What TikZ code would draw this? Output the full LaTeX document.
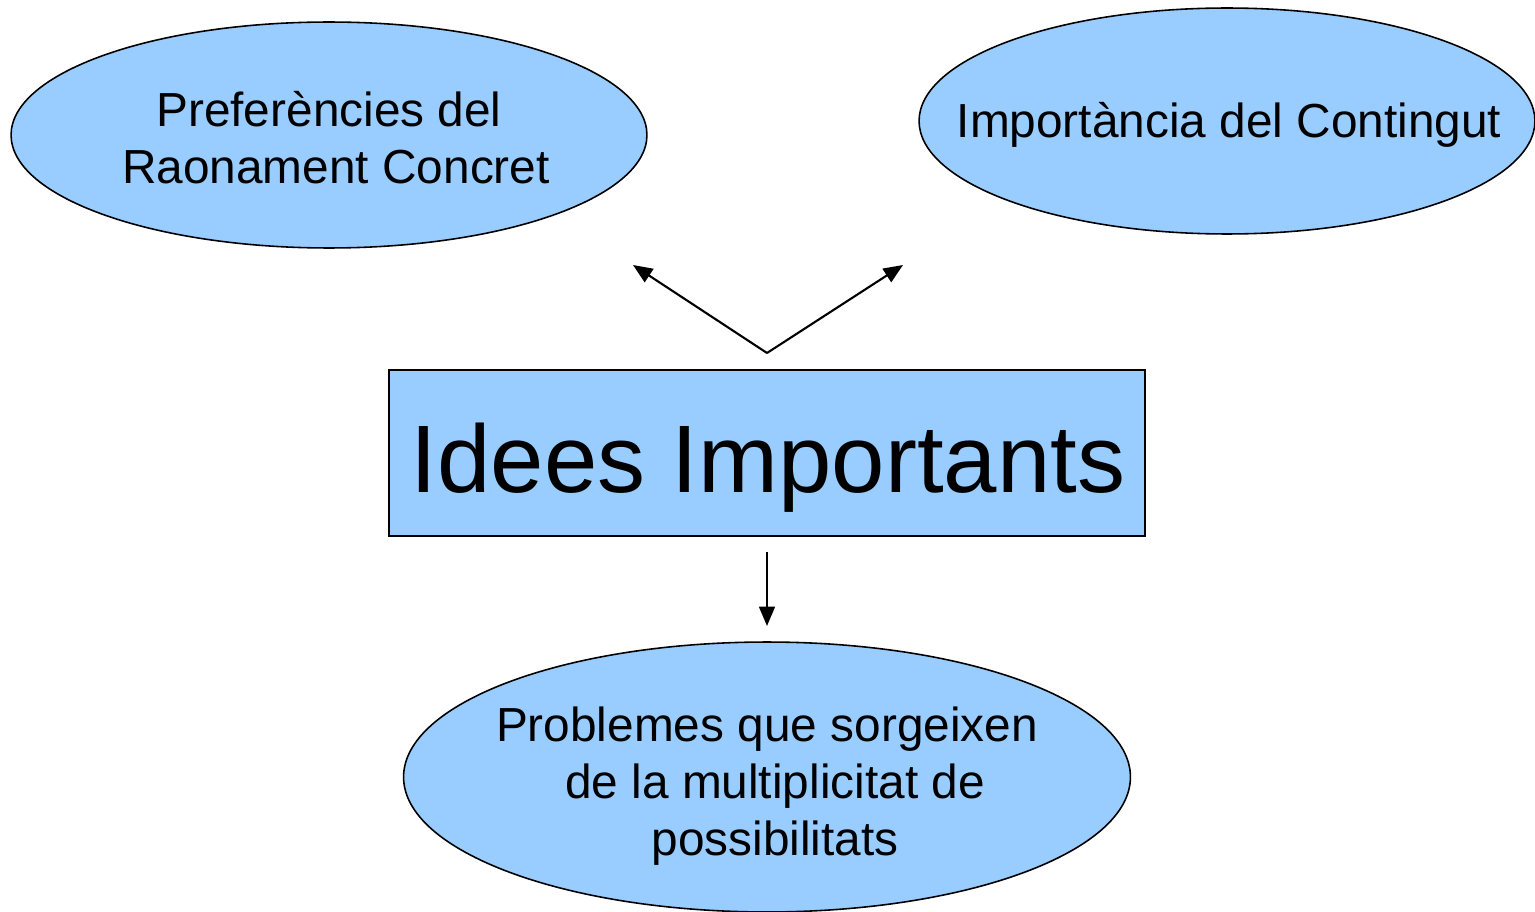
\documentclass[tikz,border=0pt]{standalone}
\usepackage{fontspec}
\setmainfont{Liberation Sans}
\usetikzlibrary{shapes.geometric,arrows.meta}
\definecolor{idea}{HTML}{99CCFF}

\begin{document}
\begin{tikzpicture}[x=0.02cm,y=-0.02cm,
  bubble/.style={ellipse,draw,fill=idea,inner sep=0pt,line width=0.9pt},
  btext/.style={align=center,inner sep=0pt,font=\fontsize{27.2}{32.6}\selectfont},
  keybox/.style={rectangle,draw,fill=idea,inner sep=0pt,line width=1pt},
  link/.style={-{Triangle[length=11pt,width=9pt]},line width=1.2pt}]
\useasboundingbox (0,0) rectangle (1535,912);
\node[bubble,minimum width=12.72cm,minimum height=4.52cm] (pref) at (329,135) {};
\node[btext] (preft) at (336,138) {Preferències del\kern0.28cm\\ Raonament Concret};
\node[bubble,minimum width=12.32cm,minimum height=4.52cm] (cont) at (1227,121) {};
\node[btext] (contt) at (1229,125) {Importància del Contingut};
\node[keybox,minimum width=15.12cm,minimum height=3.32cm] (idees) at (767,453) {};
\node[font=\fontsize{54.6}{60}\selectfont,inner sep=0pt] (ideest) at (768,468) {Idees Importants};
\node[bubble,minimum width=14.54cm,minimum height=5.4cm] (prob) at (767,777) {};
\node[btext] (probt) at (775,786) {Problemes que sorgeixen\kern0.32cm\\ de la multiplicitat de\\ possibilitats};
% arrows
\coordinate (v) at (767,353);
\coordinate (l) at (633,265);
\coordinate (r) at (903,265);
\coordinate (d1) at (767,552);
\coordinate (d2) at (767,626);
\draw[link] (v)--(l);
\draw[link] (v)--(r);
\draw[link] (d1)--(d2);
\end{tikzpicture}
\end{document}
